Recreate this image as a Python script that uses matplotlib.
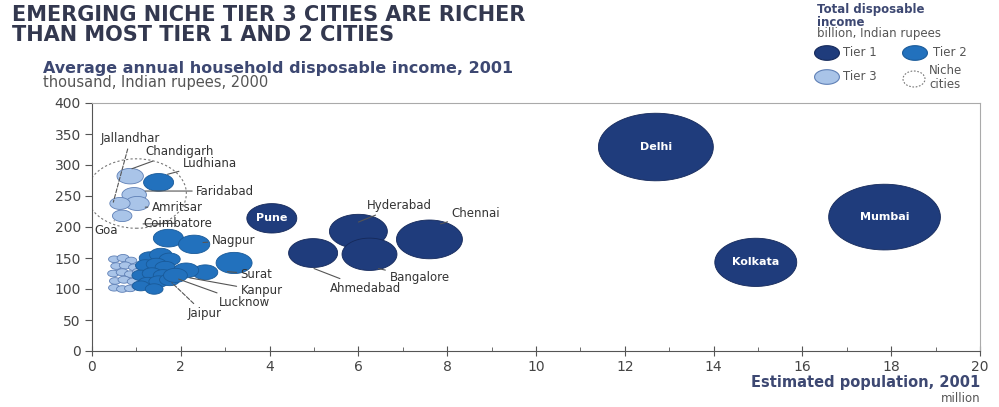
import numpy as np
import matplotlib.pyplot as plt
from matplotlib.patches import Ellipse

# Tier 1 cities: population (million), avg household income (thousand Rs), total income (billion Rs)
t1_names = ['Delhi', 'Mumbai', 'Kolkata', 'Chennai', 'Hyderabad', 'Bangalore', 'Ahmedabad', 'Pune']
t1_pop = [12.7, 17.85, 14.95, 7.6, 6.0, 6.25, 4.98, 4.05]
t1_inc = [329, 216, 143, 180, 193, 156, 158, 214]
t1_tot = [835, 790, 425, 275, 212, 191, 152, 158]

# Tier 2 cities
t2_names = ['Ludhiana', 'Coimbatore', 'Nagpur', 'Surat', 'Kanpur', 'Lucknow', 'Jaipur']
t2_pop = [1.5, 1.72, 2.3, 3.2, 2.55, 2.12, 1.88]
t2_inc = [272, 182, 172, 142, 127, 130, 122]
t2_tot = [57, 57, 62, 82, 40, 40, 36]
# unnamed tier 2 cities in the low-income cluster
t2c_pop = [1.30, 1.55, 1.75, 1.20, 1.45, 1.65, 1.10, 1.35, 1.60, 1.25, 1.50, 1.75, 1.10, 1.40]
t2c_inc = [150, 155, 148, 138, 140, 135, 122, 125, 122, 110, 112, 115, 105, 100]
t2c_tot = [28, 32, 28, 24, 26, 26, 20, 24, 24, 22, 24, 26, 18, 20]

# Niche tier 3 cities
t3_names = ['Chandigarh', 'Faridabad', 'Amritsar', 'Jallandhar', 'Goa']
t3_pop = [0.86, 0.95, 1.02, 0.63, 0.68]
t3_inc = [282, 252, 238, 238, 218]
t3_tot = [44, 38, 36, 26, 24]
# other tier 3 cities
t3c_pop = [0.50, 0.70, 0.88, 0.55, 0.75, 0.95, 0.48, 0.68, 0.86, 1.04,
           0.52, 0.72, 0.92, 0.50, 0.68, 0.86, 1.02]
t3c_inc = [148, 150, 146, 137, 138, 135, 125, 127, 124, 128,
           113, 115, 112, 102, 100, 101, 105]
t3c_tot = [8, 9, 8, 8, 9, 8, 8, 9, 8, 8, 8, 9, 8, 8, 8, 8, 8]

c1, c2, c3 = '#1f3c7c', '#2271bd', '#a9c4e8'
e1, e2, e3 = '#15295a', '#195a99', '#5f80b6'
txt = '#333333'
navy = '#3d4872'

# slightly flattened bubble marker
t = np.linspace(0, 2 * np.pi, 80)
ell = np.column_stack([np.cos(t), np.sin(t) / 1.7])
k = 8.2  # points^2 per billion rupees

fig = plt.figure(figsize=(9.99, 4.07), dpi=100)
ax = fig.add_axes([92 / 999, 56 / 407, 888 / 999, 248 / 407])

ax.scatter(t3c_pop, t3c_inc, s=np.array(t3c_tot) * k, marker=ell, c=c3, edgecolors=e3, linewidths=0.6, zorder=2)
ax.scatter(t3_pop, t3_inc, s=np.array(t3_tot) * k, marker=ell, c=c3, edgecolors=e3, linewidths=0.6, zorder=2)
ax.scatter(t2c_pop, t2c_inc, s=np.array(t2c_tot) * k, marker=ell, c=c2, edgecolors=e2, linewidths=0.6, zorder=3)
ax.scatter(t2_pop, t2_inc, s=np.array(t2_tot) * k, marker=ell, c=c2, edgecolors=e2, linewidths=0.6, zorder=3)
ax.scatter(t1_pop, t1_inc, s=np.array(t1_tot) * k, marker=ell, c=c1, edgecolors=e1, linewidths=0.6, zorder=4)

# dashed ring around the niche cities
ax.add_patch(Ellipse((1.0, 254), 2.25, 112, fill=False, ec='#777777', ls=(0, (2, 2)), lw=0.8, zorder=1))

# white names inside the big bubbles
for name in ['Delhi', 'Mumbai', 'Kolkata', 'Pune']:
    i = t1_names.index(name)
    ax.text(t1_pop[i], t1_inc[i], name, color='white', fontsize=8, fontweight='bold',
            ha='center', va='center', zorder=5)

# outside labels with leader lines: name, point, text position, dashed leader
labels = [
    ('Hyderabad', (6.0, 208), (6.2, 235), False),
    ('Chennai', (7.85, 205), (8.1, 222), False),
    ('Bangalore', (6.45, 133), (6.7, 118), False),
    ('Ahmedabad', (5.0, 133), (5.35, 101), False),
    ('Jallandhar', (0.48, 240), (0.2, 343), True),
    ('Chandigarh', (0.9, 294), (1.2, 322), False),
    ('Ludhiana', (1.7, 285), (2.05, 303), False),
    ('Faridabad', (1.2, 258), (2.35, 258), False),
    ('Amritsar', (1.2, 232), (1.35, 232), False),
    ('Goa', (0.5, 210), (0.05, 195), True),
    ('Coimbatore', (1.15, 205), (1.15, 206), False),
    ('Nagpur', (2.5, 175), (2.7, 178), False),
    ('Surat', (3.05, 128), (3.35, 124), False),
    ('Kanpur', (2.2, 118), (3.35, 97), False),
    ('Lucknow', (1.95, 116), (2.85, 78), False),
    ('Jaipur', (1.8, 110), (2.15, 60), True),
]
for name, xy, xyt, dashed in labels:
    ax.annotate(name, xy=xy, xytext=xyt, fontsize=8.5, color=txt, va='center', ha='left', zorder=6,
                arrowprops=dict(arrowstyle='-', color='#555555', lw=0.8,
                                ls='--' if dashed else '-', shrinkA=1, shrinkB=0))

ax.set_xlim(0, 20)
ax.set_ylim(0, 400)
ax.set_xticks(np.arange(0, 21, 2))
ax.set_xticks(np.arange(1, 20, 2), minor=True)
ax.set_yticks(np.arange(0, 401, 50))
ax.tick_params(axis='x', which='major', direction='inout', length=7, colors='#555555',
               labelcolor='#444444', labelsize=10, pad=3)
ax.tick_params(axis='x', which='minor', direction='in', length=3, colors='#555555')
ax.tick_params(axis='y', direction='out', length=5, colors='#555555', labelcolor='#444444',
               labelsize=10, pad=3)
for s in ['left', 'bottom']:
    ax.spines[s].set_color('#555555')
for s in ['top', 'right']:
    ax.spines[s].set_color('#aaaaaa')

def ft(x, y, s, **kw):
    fig.text(x / 999, 1 - y / 407, s, **kw)

ft(12, 15, 'EMERGING NICHE TIER 3 CITIES ARE RICHER', fontsize=15, fontweight='bold',
   color='#33384f', va='center')
ft(12, 35, 'THAN MOST TIER 1 AND 2 CITIES', fontsize=15, fontweight='bold',
   color='#33384f', va='center')
ft(43, 68, 'Average annual household disposable income, 2001', fontsize=11.5,
   fontweight='bold', color=navy, va='center')
ft(43, 82, 'thousand, Indian rupees, 2000', fontsize=10.5, color='#555555', va='center')
ft(980, 383, 'Estimated population, 2001', fontsize=10.5, fontweight='bold', color=navy,
   va='center', ha='right')
ft(980, 399, 'million', fontsize=8.5, color='#555555', va='center', ha='right')

# legend block in the top right corner
ft(817, 10, 'Total disposable', fontsize=8.5, fontweight='bold', color=navy, va='center')
ft(817, 22, 'income', fontsize=8.5, fontweight='bold', color=navy, va='center')
ft(817, 34, 'billion, Indian rupees', fontsize=8.5, color='#555555', va='center')
lg = fig.add_axes([0, 0, 1, 1], facecolor='none')
lg.set_xlim(0, 999)
lg.set_ylim(407, 0)
lg.axis('off')
lg.scatter([827, 915, 827], [53, 53, 77], s=320, marker=ell, c=[c1, c2, c3],
           edgecolors=[e1, e2, e3], linewidths=0.8)
lg.add_patch(Ellipse((914, 79), 22, 16, fill=False, ec='#777777', ls=(0, (1.5, 1.5)), lw=0.8))
ft(843, 53, 'Tier 1', fontsize=8.5, color='#555555', va='center')
ft(933, 53, 'Tier 2', fontsize=8.5, color='#555555', va='center')
ft(843, 77, 'Tier 3', fontsize=8.5, color='#555555', va='center')
ft(929, 71, 'Niche', fontsize=8.5, color='#555555', va='center')
ft(929, 84, 'cities', fontsize=8.5, color='#555555', va='center')

fig.savefig('out.png', dpi=100)
